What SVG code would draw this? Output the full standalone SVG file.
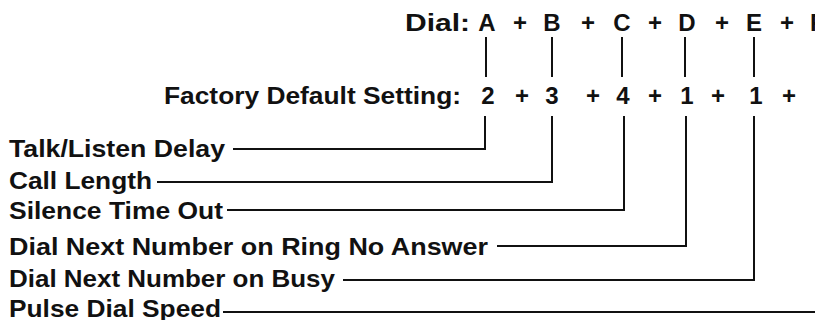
<svg xmlns="http://www.w3.org/2000/svg" width="815" height="320" viewBox="0 0 815 320">
<style>
text{font-family:"Liberation Sans",Arial,sans-serif;font-weight:bold;font-size:24px;fill:#111}
.c{text-anchor:middle}
.ln{fill:none;stroke:#111;stroke-width:2}
</style>
<rect width="815" height="320" fill="#fff"/>
<g id="dial-row">
<text x="405" y="31" textLength="65" lengthAdjust="spacingAndGlyphs">Dial:</text>
<text class="c" x="487" y="31">A</text>
<text class="c" x="520" y="31">+</text>
<text class="c" x="552" y="31">B</text>
<text class="c" x="588" y="31">+</text>
<text class="c" x="622" y="31">C</text>
<text class="c" x="655" y="31">+</text>
<text class="c" x="687" y="31">D</text>
<text class="c" x="722" y="31">+</text>
<text class="c" x="754" y="31">E</text>
<text class="c" x="787" y="31">+</text>
<text x="810" y="31">F</text>
</g>
<g id="default-row">
<text x="164" y="104" textLength="297" lengthAdjust="spacingAndGlyphs">Factory Default Setting:</text>
<text class="c" x="488" y="104">2</text>
<text class="c" x="522" y="104">+</text>
<text class="c" x="552" y="104">3</text>
<text class="c" x="593" y="104">+</text>
<text class="c" x="623" y="104">4</text>
<text class="c" x="655" y="104">+</text>
<text class="c" x="687" y="104">1</text>
<text class="c" x="718" y="104">+</text>
<text class="c" x="756" y="104">1</text>
<text class="c" x="789" y="104">+</text>
</g>
<g id="labels">
<text x="9" y="157" textLength="216" lengthAdjust="spacingAndGlyphs">Talk/Listen Delay</text>
<text x="9" y="189" textLength="143" lengthAdjust="spacingAndGlyphs">Call Length</text>
<text x="9" y="219" textLength="214" lengthAdjust="spacingAndGlyphs">Silence Time Out</text>
<text x="9" y="255" textLength="479" lengthAdjust="spacingAndGlyphs">Dial Next Number on Ring No Answer</text>
<text x="9" y="287" textLength="326" lengthAdjust="spacingAndGlyphs">Dial Next Number on Busy</text>
<text x="9" y="317" textLength="212" lengthAdjust="spacingAndGlyphs">Pulse Dial Speed</text>
</g>
<g id="connectors">
<line class="ln" x1="486" y1="37" x2="486" y2="77"/>
<line class="ln" x1="552" y1="37" x2="552" y2="77"/>
<line class="ln" x1="622" y1="37" x2="622" y2="77"/>
<line class="ln" x1="685" y1="37" x2="685" y2="77"/>
<line class="ln" x1="754" y1="37" x2="754" y2="77"/>
<polyline class="ln" points="233,149 485,149 485,116"/>
<polyline class="ln" points="157,182 552,182 552,116"/>
<polyline class="ln" points="227,210 624,210 624,116"/>
<polyline class="ln" points="497,246 686,246 686,116"/>
<polyline class="ln" points="343,280 754,280 754,116"/>
<polyline class="ln" points="223,312 815,312"/>
</g>
</svg>
